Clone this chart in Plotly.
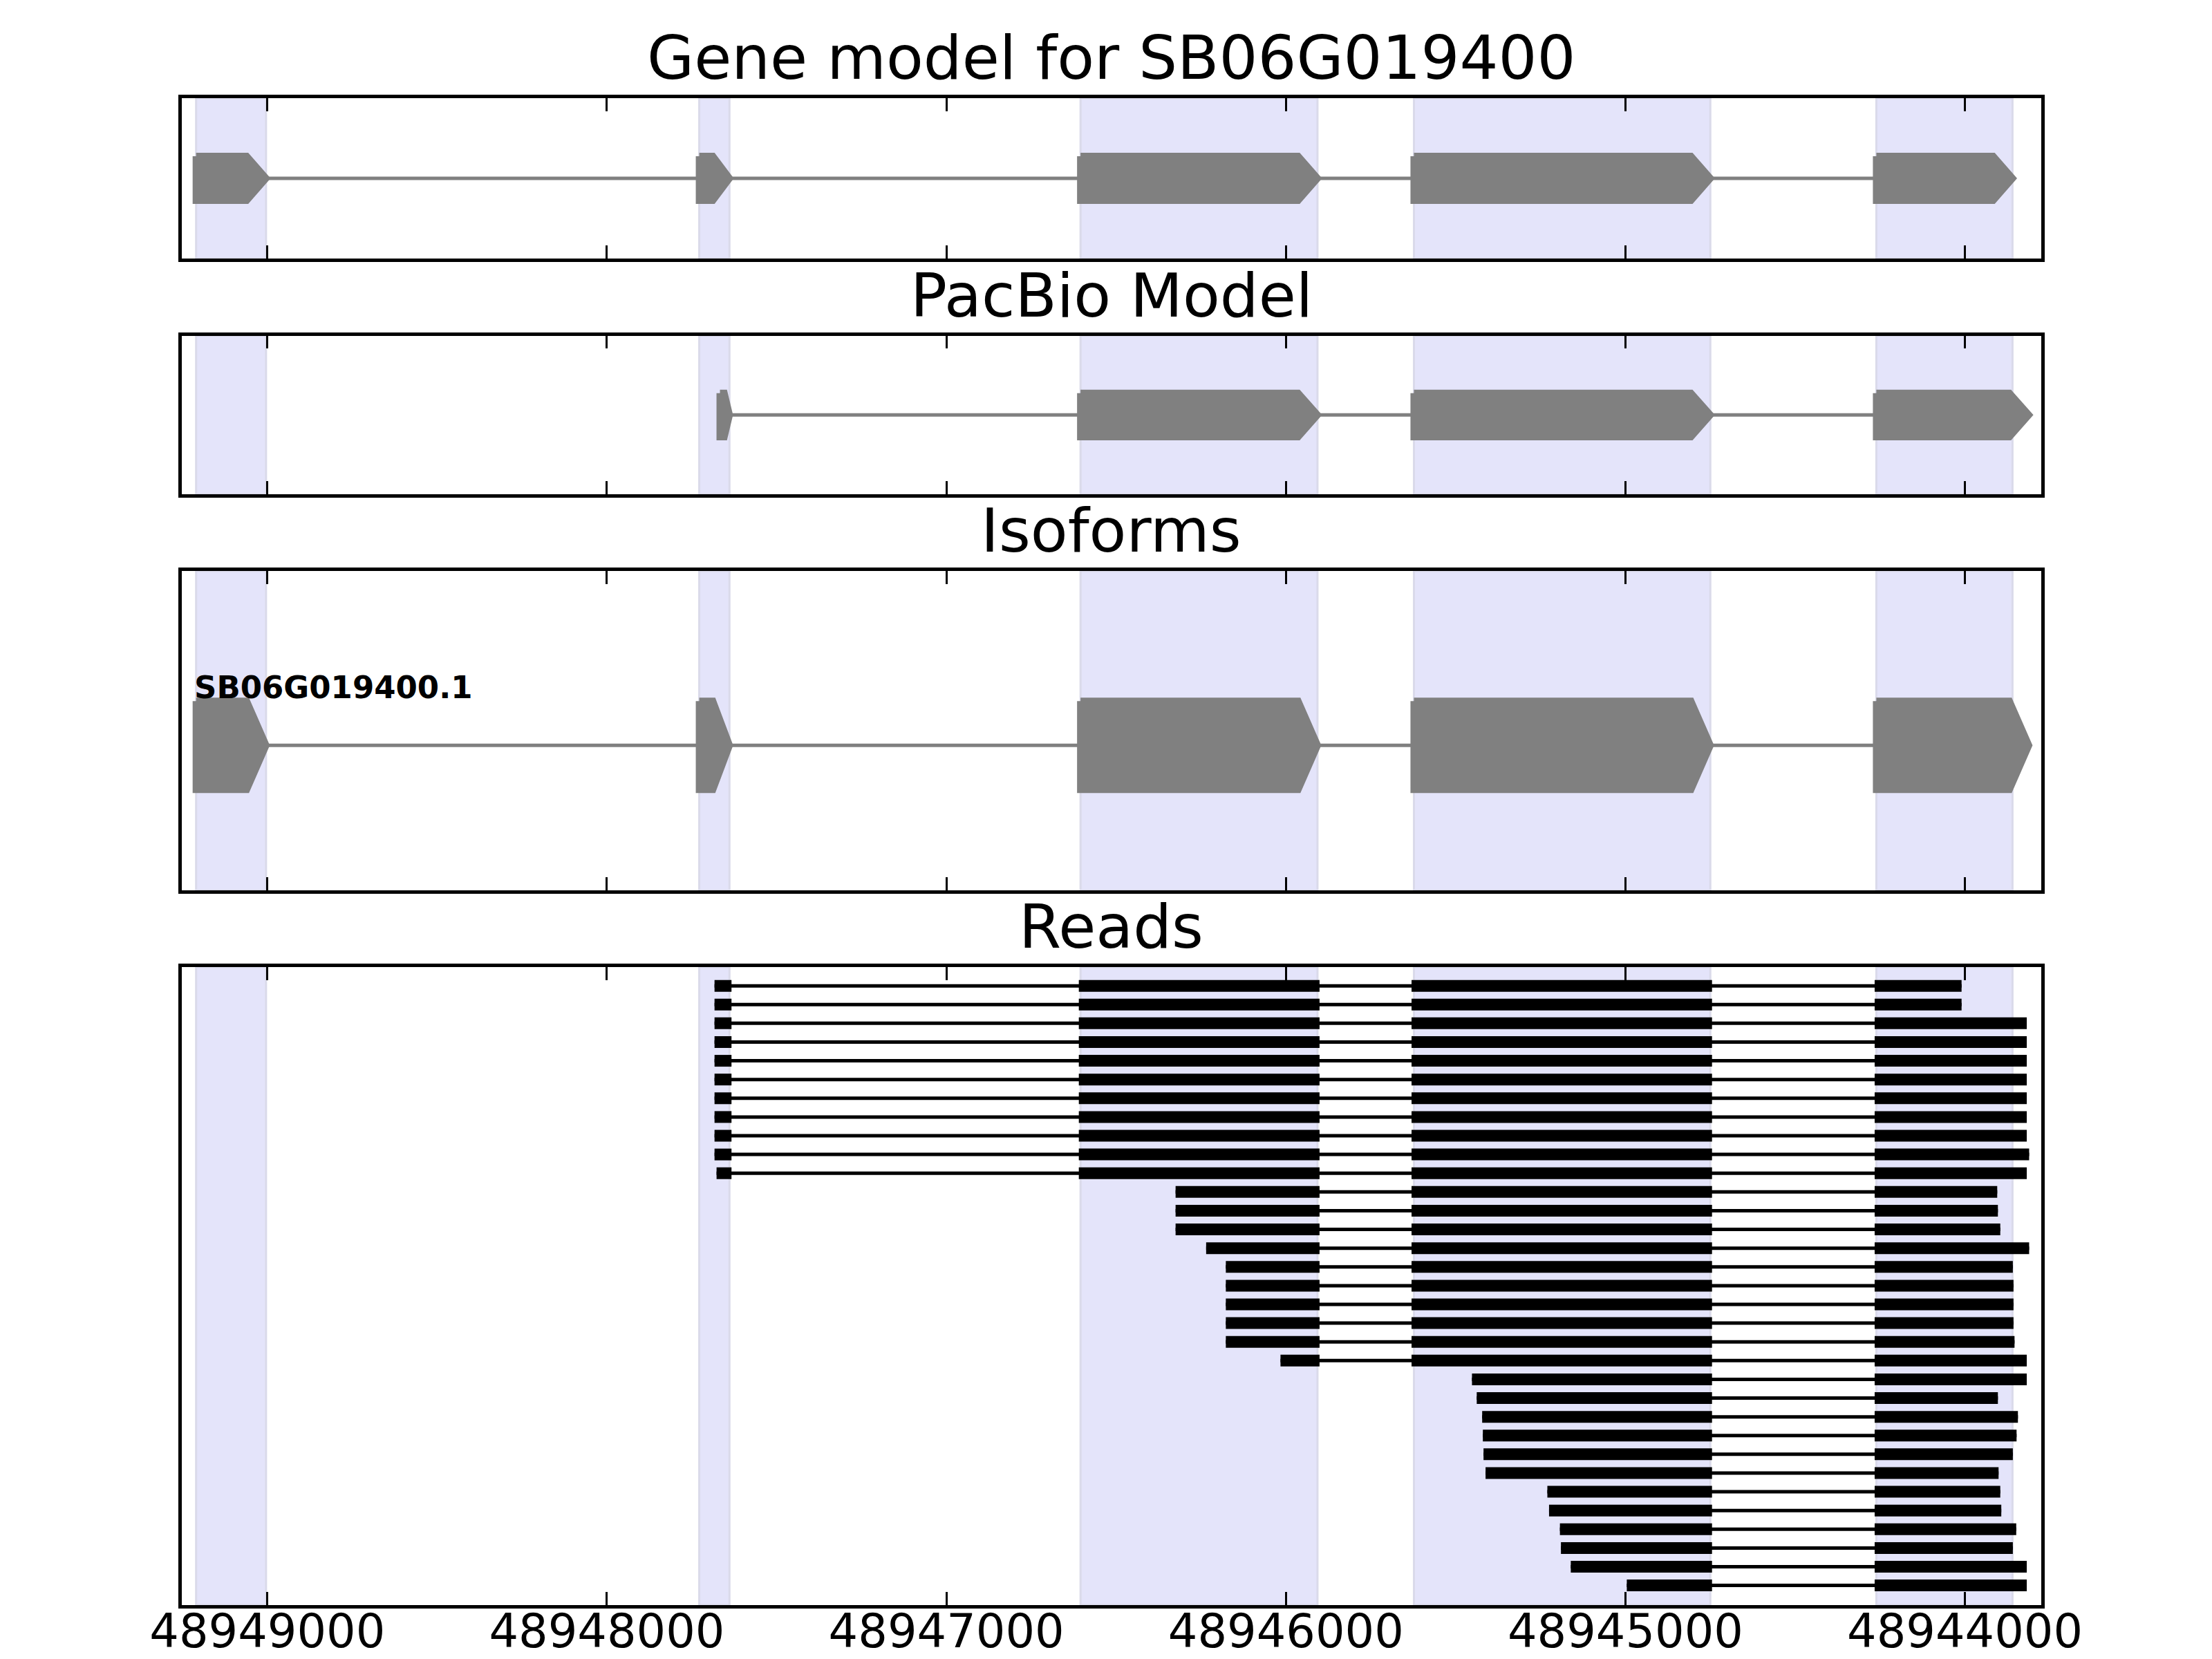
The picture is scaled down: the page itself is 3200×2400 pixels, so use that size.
import plotly.graph_objects as go

# --- data (genomic coordinates, gene is on the minus strand so left > right) ---
titles = ["Gene model for SB06G019400", "PacBio Model", "Isoforms", "Reads"]
isoform_name = "SB06G019400.1"
tick_values = [48949000, 48948000, 48947000, 48946000, 48945000, 48944000]
x_left = 48949252
x_right = 48943776

gene_exons = [(48949210, 48949004), (48947728, 48947639), (48946605, 48945907),
              (48945623, 48944750), (48944261, 48943860)]
pacbio_exons = [(48947667, 48947639), (48946605, 48945907),
                (48945623, 48944750), (48944261, 48943812)]
isoform_exons = [(48949210, 48949004), (48947728, 48947639), (48946605, 48945907),
                 (48945623, 48944750), (48944261, 48943812)]

reads = [
    [(48947683, 48947633), (48946610, 48945901), (48945630, 48944745), (48944266, 48944010)],
    [(48947683, 48947633), (48946610, 48945901), (48945630, 48944745), (48944266, 48944010)],
    [(48947683, 48947633), (48946610, 48945901), (48945630, 48944745), (48944266, 48943818)],
    [(48947683, 48947633), (48946610, 48945901), (48945630, 48944745), (48944266, 48943818)],
    [(48947683, 48947633), (48946610, 48945901), (48945630, 48944745), (48944266, 48943818)],
    [(48947683, 48947633), (48946610, 48945901), (48945630, 48944745), (48944266, 48943818)],
    [(48947683, 48947633), (48946610, 48945901), (48945630, 48944745), (48944266, 48943818)],
    [(48947683, 48947633), (48946610, 48945901), (48945630, 48944745), (48944266, 48943818)],
    [(48947683, 48947633), (48946610, 48945901), (48945630, 48944745), (48944266, 48943818)],
    [(48947683, 48947633), (48946610, 48945901), (48945630, 48944745), (48944266, 48943811)],
    [(48947677, 48947633), (48946610, 48945901), (48945630, 48944745), (48944266, 48943818)],
    [(48946325, 48945901), (48945630, 48944745), (48944266, 48943905)],
    [(48946325, 48945901), (48945630, 48944745), (48944266, 48943903)],
    [(48946325, 48945901), (48945630, 48944745), (48944266, 48943896)],
    [(48946235, 48945901), (48945630, 48944745), (48944266, 48943811)],
    [(48946177, 48945901), (48945630, 48944745), (48944266, 48943859)],
    [(48946177, 48945901), (48945630, 48944745), (48944266, 48943857)],
    [(48946177, 48945901), (48945630, 48944745), (48944266, 48943857)],
    [(48946177, 48945901), (48945630, 48944745), (48944266, 48943857)],
    [(48946177, 48945901), (48945630, 48944745), (48944266, 48943854)],
    [(48946016, 48945901), (48945630, 48944745), (48944266, 48943818)],
    [(48945452, 48944745), (48944266, 48943818)],
    [(48945438, 48944745), (48944266, 48943903)],
    [(48945422, 48944745), (48944266, 48943844)],
    [(48945420, 48944745), (48944266, 48943848)],
    [(48945418, 48944745), (48944266, 48943859)],
    [(48945412, 48944745), (48944266, 48943901)],
    [(48945230, 48944745), (48944266, 48943896)],
    [(48945225, 48944745), (48944266, 48943893)],
    [(48945193, 48944745), (48944266, 48943849)],
    [(48945190, 48944745), (48944266, 48943859)],
    [(48945161, 48944745), (48944266, 48943818)],
    [(48944996, 48944745), (48944266, 48943818)],
]

GREY = "#808080"
FONT = "DejaVu Sans"

# panel positions (paper coords)
x_domain = [0.0797, 0.9202]
y_domains = [[0.8475, 0.9442], [0.7054, 0.8010], [0.4667, 0.6592], [0.0358, 0.4204]]


def arrow_xy(left, right, half):
    head = min(57, 0.55 * (left - right))
    xs = [left, right + head, right, right + head, left, left]
    ys = [half, half, 0, -half, -half, half]
    return xs, ys


def model_traces(exons, half, axis):
    traces = []
    # intron line behind the exons
    traces.append(go.Scatter(x=[exons[0][0], exons[-1][1]], y=[0, 0], mode="lines",
                             line=dict(color=GREY, width=5), xaxis="x" + axis, yaxis="y" + axis,
                             hoverinfo="skip", showlegend=False))
    for left, right in exons:
        xs, ys = arrow_xy(left, right, half)
        traces.append(go.Scatter(x=xs, y=ys, mode="lines", fill="toself", fillcolor=GREY,
                                 line=dict(color=GREY, width=10), xaxis="x" + axis,
                                 yaxis="y" + axis, hoverinfo="skip", showlegend=False))
    return traces


fig = go.Figure()

for t in model_traces(gene_exons, 0.276, ""):
    fig.add_trace(t)
for t in model_traces(pacbio_exons, 0.276, "2"):
    fig.add_trace(t)
for t in model_traces(isoform_exons, 0.464, "3"):
    fig.add_trace(t)

# reads: thin line over whole read, thick bars for exons
thin_x, thin_y, thick_x, thick_y = [], [], [], []
for i, read in enumerate(reads):
    thin_x += [read[0][0], read[-1][1], None]
    thin_y += [i, i, None]
    for left, right in read:
        thick_x += [left, right, None]
        thick_y += [i, i, None]

fig.add_trace(go.Scatter(x=thin_x, y=thin_y, mode="lines", line=dict(color="black", width=5),
                         xaxis="x4", yaxis="y4", hoverinfo="skip", showlegend=False))
fig.add_trace(go.Scatter(x=thick_x, y=thick_y, mode="lines", line=dict(color="black", width=17),
                         xaxis="x4", yaxis="y4", hoverinfo="skip", showlegend=False))

# exon bands on every panel
shapes = []
for axis in ["", "2", "3", "4"]:
    for left, right in gene_exons:
        shapes.append(dict(type="rect", xref="x" + axis, yref="y" + axis + " domain",
                           x0=left, x1=right, y0=0, y1=1, fillcolor="#e4e4fa",
                           line=dict(color="#dadaea", width=3), layer="below"))

annotations = []
for title, dom in zip(titles, y_domains):
    annotations.append(dict(text=title, xref="paper", yref="paper", x=sum(x_domain) / 2,
                            y=dom[1], xanchor="center", yanchor="bottom", yshift=5,
                            showarrow=False, font=dict(family=FONT, size=88, color="black")))
annotations.append(dict(text="<b>" + isoform_name + "</b>", xref="x3", yref="y3",
                        x=isoform_exons[0][0], y=0.5, xanchor="left", yanchor="bottom",
                        xshift=-5, yshift=-14, showarrow=False,
                        font=dict(family=FONT, size=45, color="black")))

y_ranges = [[-1, 1], [-1, 1], [-1.52, 1.83], [len(reads) + 0.05, -1.0]]

layout = dict(width=3200, height=2400, margin=dict(l=0, r=0, t=0, b=0, autoexpand=False),
              plot_bgcolor="white", paper_bgcolor="white", shapes=shapes,
              annotations=annotations, showlegend=False)

for k, axis in enumerate(["", "2", "3", "4"]):
    layout["xaxis" + axis] = dict(domain=x_domain, range=[x_left, x_right], anchor="y" + axis,
                                  tickvals=tick_values, tickformat="d", ticks="inside",
                                  ticklen=19, tickwidth=2.5, tickcolor="black",
                                  showline=True, linecolor="black", linewidth=4.5,
                                  mirror="ticks", showgrid=False, zeroline=False,
                                  automargin=False, ticklabelstandoff=-24,
                                  showticklabels=(axis == "4"),
                                  tickfont=dict(family=FONT, size=67, color="black"))
    layout["yaxis" + axis] = dict(domain=y_domains[k], range=y_ranges[k], anchor="x" + axis,
                                  showticklabels=False, ticks="", showgrid=False,
                                  zeroline=False, showline=True, linecolor="black",
                                  linewidth=4.5, mirror=True, automargin=False)

fig.update_layout(**layout)
fig.write_html("out.html")
